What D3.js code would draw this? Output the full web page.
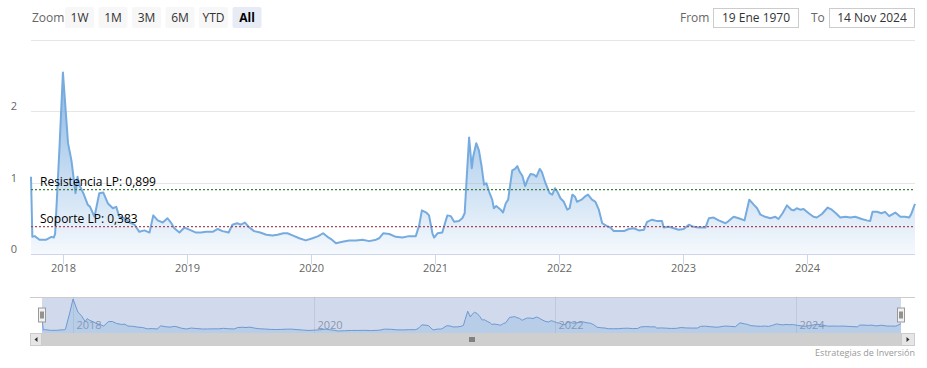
<!DOCTYPE html>
<html>
<head>
<meta charset="utf-8">
<script src="https://cdn.jsdelivr.net/npm/d3@7"></script>
<style>
  body { margin: 0; background: #fff; }
  svg { display: block; font-family: "Open Sans", sans-serif; }
</style>
</head>
<body>
<svg id="chart" width="927" height="368"></svg>
<script>
// weekly-ish readings of the series
const dates = [
  "2017-09-29","2017-10-03","2017-10-10","2017-10-24","2017-11-13","2017-11-28","2017-12-05","2017-12-09","2017-12-22",
  "2018-01-01","2018-01-16","2018-01-26","2018-02-07","2018-02-13","2018-02-19","2018-03-02","2018-03-15","2018-03-22",
  "2018-04-04","2018-04-18","2018-04-30","2018-05-13","2018-05-28","2018-06-07","2018-06-16","2018-07-01","2018-07-16",
  "2018-07-31","2018-08-14","2018-08-29","2018-09-13","2018-09-24","2018-10-07","2018-10-22","2018-11-05","2018-11-15",
  "2018-11-25","2018-12-10","2018-12-25",
  "2019-01-08","2019-01-28","2019-02-12","2019-02-26","2019-03-18","2019-04-02","2019-04-16","2019-05-04","2019-05-15",
  "2019-05-29","2019-06-09","2019-06-21","2019-07-04","2019-07-18","2019-08-05","2019-08-23","2019-09-10","2019-09-25",
  "2019-10-12","2019-10-24","2019-11-08","2019-11-28","2019-12-17",
  "2020-01-06","2020-01-23","2020-02-06","2020-02-19","2020-03-03","2020-03-15","2020-04-03","2020-04-23","2020-05-13",
  "2020-06-01","2020-06-21","2020-07-11","2020-07-20","2020-08-01","2020-08-19","2020-09-07","2020-09-27","2020-10-16",
  "2020-11-05","2020-11-15","2020-11-23","2020-12-06","2020-12-14","2020-12-24","2020-12-29",
  "2021-01-08","2021-01-22","2021-02-06","2021-02-16","2021-02-26","2021-03-12","2021-03-22","2021-03-29","2021-04-03",
  "2021-04-11","2021-04-19","2021-04-23","2021-05-02","2021-05-10","2021-05-18","2021-05-25","2021-06-01","2021-06-09",
  "2021-06-18","2021-06-23","2021-06-30","2021-07-13","2021-07-20","2021-07-28","2021-08-04","2021-08-16","2021-08-24",
  "2021-08-31","2021-09-07","2021-09-15","2021-09-23","2021-10-02","2021-10-09","2021-10-19","2021-10-26","2021-11-05",
  "2021-11-11","2021-11-22","2021-12-04","2021-12-12","2021-12-20","2021-12-27",
  "2022-01-05","2022-01-15","2022-01-25","2022-02-01","2022-02-09","2022-02-17","2022-02-23","2022-03-08","2022-03-20",
  "2022-03-27","2022-04-08","2022-04-18","2022-04-28","2022-05-08","2022-05-22","2022-06-01","2022-06-11","2022-06-26",
  "2022-07-11","2022-07-25","2022-08-09","2022-08-24","2022-09-08","2022-09-17","2022-10-02","2022-10-17","2022-10-31",
  "2022-11-05","2022-11-20","2022-12-05","2022-12-19",
  "2023-01-03","2023-01-18","2023-02-01","2023-02-16","2023-03-08","2023-03-18","2023-04-01","2023-04-16","2023-05-06",
  "2023-05-15","2023-05-30","2023-06-14","2023-07-01","2023-07-15","2023-07-28","2023-08-07","2023-08-17","2023-08-31",
  "2023-09-15","2023-09-30","2023-10-09","2023-10-21","2023-11-03","2023-11-16","2023-11-23","2023-12-02","2023-12-12",
  "2023-12-22",
  "2024-01-06","2024-01-20","2024-01-30","2024-02-14","2024-03-02","2024-03-14","2024-03-26","2024-04-08","2024-04-23",
  "2024-05-08","2024-05-22","2024-06-10","2024-06-25","2024-07-05","2024-07-12","2024-07-25","2024-08-07","2024-08-18",
  "2024-08-30","2024-09-17","2024-10-02","2024-10-16","2024-10-28","2024-11-03","2024-11-14"
];
const values = [
  1.08,0.24,0.25,0.20,0.20,0.24,0.23,0.28,1.50,
  2.54,1.55,1.31,0.85,1.08,0.96,0.85,0.69,0.66,
  0.52,0.85,0.86,0.71,0.64,0.66,0.52,0.50,0.44,
  0.41,0.31,0.33,0.30,0.54,0.47,0.44,0.50,0.44,
  0.36,0.30,0.37,
  0.34,0.30,0.30,0.31,0.31,0.35,0.32,0.30,0.41,
  0.43,0.41,0.44,0.37,0.32,0.30,0.27,0.26,0.27,
  0.29,0.29,0.26,0.22,0.19,
  0.22,0.25,0.29,0.24,0.20,0.15,0.17,0.19,0.19,
  0.20,0.18,0.20,0.22,0.29,0.28,0.24,0.23,0.25,
  0.25,0.40,0.61,0.58,0.54,0.29,0.23,
  0.29,0.30,0.54,0.53,0.45,0.46,0.50,0.57,0.99,
  1.63,1.20,1.36,1.55,1.45,1.22,0.97,0.99,0.87,
  0.76,0.64,0.67,0.62,0.58,0.71,0.76,1.17,1.19,
  1.23,1.15,1.09,0.95,1.06,1.12,1.11,1.08,1.19,
  1.15,0.99,0.85,0.83,0.92,0.87,
  0.78,0.73,0.62,0.64,0.83,0.80,0.73,0.76,0.81,
  0.83,0.76,0.73,0.62,0.43,0.39,0.37,0.32,0.32,
  0.32,0.35,0.36,0.33,0.34,0.45,0.48,0.46,0.46,
  0.37,0.38,0.36,0.34,
  0.35,0.41,0.38,0.37,0.37,0.50,0.51,0.47,0.43,
  0.46,0.52,0.50,0.47,0.76,0.69,0.64,0.55,0.52,
  0.50,0.52,0.49,0.57,0.68,0.62,0.61,0.64,0.62,
  0.63,
  0.57,0.52,0.51,0.56,0.65,0.62,0.57,0.51,0.52,
  0.51,0.52,0.49,0.47,0.46,0.59,0.59,0.57,0.59,
  0.53,0.58,0.52,0.52,0.51,0.56,0.70
];
const levelNames = ["Resistencia LP", "Soporte LP"];
const levelValues = [0.899, 0.383];
const yTickValues = [0, 1, 2, 3];
const zoomButtons = ["1W", "1M", "3M", "6M", "YTD", "All"];
const fromText = "19 Ene 1970";
const toText = "14 Nov 2024";
const creditText = "Estrategias de Inversión";

const parse = d3.timeParse("%Y-%m-%d");
const data = dates.map((d, i) => ({ date: parse(d), value: values[i] }));

const svg = d3.select("#chart");
const defs = svg.append("defs");

let plot = { left: 31, right: 915, top: 39.5, bottom: 254 };
let x = d3.scaleTime().domain(d3.extent(data, d => d.date)).range([plot.left, plot.right]);
let y = d3.scaleLinear().domain([0, 3]).range([plot.bottom, plot.top]);

// area gradient
let grad = defs.append("linearGradient").attr("id", "areaFill")
  .attr("gradientUnits", "userSpaceOnUse")
  .attr("x1", 0).attr("x2", 0).attr("y1", plot.top + 30).attr("y2", plot.bottom);
grad.append("stop").attr("offset", 0).attr("stop-color", "#72a9de").attr("stop-opacity", 0.85);
grad.append("stop").attr("offset", 1).attr("stop-color", "#72a9de").attr("stop-opacity", 0.07);

// gridlines
svg.append("g").selectAll("line")
  .data(yTickValues.filter(v => v > 0))
  .join("line")
    .attr("x1", plot.left).attr("x2", plot.right)
    .attr("y1", d => Math.round(y(d)) + 0.5).attr("y2", d => Math.round(y(d)) + 0.5)
    .style("stroke", "#e6e6e6");

// y labels
svg.append("g").selectAll("text")
  .data(yTickValues.filter(v => v < 3))
  .join("text")
    .attr("x", 14).attr("y", d => y(d) - 1)
    .attr("text-anchor", "middle")
    .style("font-size", "11px").style("fill", "#666")
    .text(d => d);

// series
let area = d3.area().x(d => x(d.date)).y0(plot.bottom).y1(d => y(d.value));
let line = d3.line().x(d => x(d.date)).y(d => y(d.value));
svg.append("path").datum(data).attr("d", area).style("fill", "url(#areaFill)");
svg.append("path").datum(data).attr("d", line)
  .style("fill", "none").style("stroke", "#76abdf").style("stroke-width", 2)
  .style("stroke-linejoin", "round");

// x axis
svg.append("line")
  .attr("x1", plot.left).attr("x2", plot.right)
  .attr("y1", plot.bottom + 0.5).attr("y2", plot.bottom + 0.5)
  .style("stroke", "#ccd6eb");
let years = x.ticks(d3.timeYear.every(1));
let xt = svg.append("g").selectAll("g").data(years).join("g")
  .attr("transform", d => `translate(${Math.round(x(d)) + 0.5},0)`);
xt.append("line").attr("y1", plot.bottom).attr("y2", plot.bottom + 10).style("stroke", "#ccd6eb");
xt.append("text").attr("y", plot.bottom + 18).attr("text-anchor", "middle")
  .style("font-size", "11px").style("fill", "#666")
  .text(d3.timeFormat("%Y"));

// support / resistance
let levelColors = ["#3d7f3d", "#a34a5c"];
levelValues.forEach((v, i) => {
  svg.append("line")
    .attr("x1", plot.left).attr("x2", plot.right)
    .attr("y1", y(v)).attr("y2", y(v))
    .style("stroke", levelColors[i]).style("stroke-width", 1.2)
    .style("stroke-dasharray", "2,2");
  svg.append("text")
    .attr("x", 40).attr("y", y(v) - 4)
    .style("font-size", "12px").style("fill", "#000")
    .text(levelNames[i] + ": " + d3.format(".3f")(v).replace(".", ","));
});

// navigator
let nav = { left: 42, right: 901, top: 297, bottom: 333 };
let xn = d3.scaleTime().domain(x.domain()).range([nav.left, nav.right]);
let yn = d3.scaleLinear().domain(d3.extent(values)).range([331, 299]);

svg.append("line").attr("x1", 30).attr("x2", 915)
  .attr("y1", nav.top + 0.5).attr("y2", nav.top + 0.5).style("stroke", "#ccc");
svg.append("rect")
  .attr("x", nav.left).attr("y", nav.top + 1)
  .attr("width", nav.right - nav.left).attr("height", nav.bottom - nav.top - 1)
  .style("fill", "rgba(102,133,194,0.3)");

let navYears = xn.ticks(d3.timeYear.every(2));
let ng = svg.append("g").selectAll("g").data(navYears).join("g")
  .attr("transform", d => `translate(${Math.round(xn(d)) + 0.5},0)`);
ng.append("line").attr("y1", nav.top).attr("y2", nav.bottom).style("stroke", "rgba(0,0,0,0.08)");
ng.append("text").attr("x", 3).attr("y", 329)
  .style("font-size", "11px").style("fill", "#8a96ad")
  .text(d3.timeFormat("%Y"));

let navArea = d3.area().x(d => xn(d.date)).y0(nav.bottom).y1(d => yn(d.value));
let navLine = d3.line().x(d => xn(d.date)).y(d => yn(d.value));
svg.append("path").datum(data).attr("d", navArea).style("fill", "rgba(111,166,220,0.25)");
svg.append("path").datum(data).attr("d", navLine)
  .style("fill", "none").style("stroke", "#6f98d0").style("stroke-width", 1);

// handles
[nav.left, nav.right].forEach(hx => {
  let h = svg.append("g").attr("transform", `translate(${hx},315)`);
  h.append("rect").attr("x", -3.5).attr("y", -7).attr("width", 7).attr("height", 14)
    .style("fill", "#f2f2f2").style("stroke", "#999");
  h.append("line").attr("x1", -1).attr("x2", -1).attr("y1", -3.5).attr("y2", 3.5).style("stroke", "#333");
  h.append("line").attr("x1", 1).attr("x2", 1).attr("y1", -3.5).attr("y2", 3.5).style("stroke", "#333");
});

// scrollbar
let sb = { top: 333, h: 13 };
svg.append("rect").attr("x", 30).attr("y", sb.top).attr("width", 885).attr("height", sb.h).style("fill", "#f2f2f2");
svg.append("rect").attr("x", nav.left).attr("y", sb.top).attr("width", nav.right - nav.left).attr("height", sb.h)
  .style("fill", "#cfcfcf");
[[30, 12, -1], [nav.right, 14, 1]].forEach(([bx, bw, dir]) => {
  svg.append("rect").attr("x", bx + 0.5).attr("y", sb.top + 0.5).attr("width", bw - 1).attr("height", sb.h - 1)
    .style("fill", "#e6e6e6").style("stroke", "#ccc");
  let cx = bx + bw / 2, cy = sb.top + sb.h / 2;
  svg.append("path")
    .attr("d", `M${cx + dir * 1.5},${cy} L${cx - dir * 1.5},${cy - 2.5} L${cx - dir * 1.5},${cy + 2.5} Z`)
    .style("fill", "#333");
});
let mid = (nav.left + nav.right) / 2;
[-2, 0, 2].forEach(o => {
  svg.append("line").attr("x1", mid + o + 0.5).attr("x2", mid + o + 0.5)
    .attr("y1", sb.top + 4).attr("y2", sb.top + 9).style("stroke", "#333");
});

// credits
svg.append("text").attr("x", 915).attr("y", 356).attr("text-anchor", "end")
  .style("font-size", "9px").style("fill", "#999").text(creditText);

// range selector
svg.append("text").attr("x", 32).attr("y", 22)
  .style("font-size", "12px").style("fill", "#666").text("Zoom");
let btn = svg.append("g").selectAll("g").data(zoomButtons).join("g")
  .attr("transform", (d, i) => `translate(${65 + i * 33.5},7)`);
btn.append("rect").attr("width", 29).attr("height", 21).attr("rx", 2)
  .style("fill", d => d === "All" ? "#e6ebf5" : "#f7f7f7");
btn.append("text").attr("x", 14.5).attr("y", 15).attr("text-anchor", "middle")
  .style("font-size", "12px")
  .style("font-weight", d => d === "All" ? "bold" : "normal")
  .style("fill", d => d === "All" ? "#000" : "#333")
  .text(d => d);

svg.append("text").attr("x", 680).attr("y", 22)
  .style("font-size", "12px").style("fill", "#666").text("From");
svg.append("text").attr("x", 811).attr("y", 22)
  .style("font-size", "12px").style("fill", "#666").text("To");
[[713, fromText], [829, toText]].forEach(([bx, t]) => {
  svg.append("rect").attr("x", bx + 0.5).attr("y", 8.5).attr("width", 85).attr("height", 19)
    .style("fill", "#fff").style("stroke", "#ccc");
  svg.append("text").attr("x", bx + 43).attr("y", 22).attr("text-anchor", "middle")
    .style("font-size", "12px").style("fill", "#333").text(t);
});
</script>
</body>
</html>
